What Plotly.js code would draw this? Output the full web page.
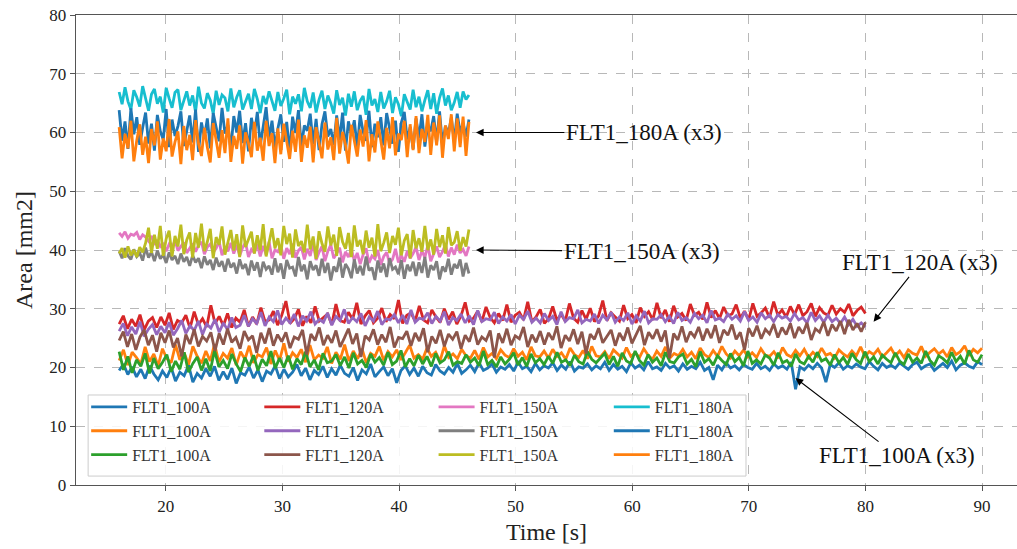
<!DOCTYPE html>
<html>
<head>
<meta charset="utf-8">
<script src="https://cdn.plot.ly/plotly-3.0.1.min.js"></script>
<style>html,body{margin:0;padding:0;background:#fff;}#chart{width:1017px;height:549px;}</style>
</head>
<body>
<div id="chart"></div>
<script>
// Time spans of each group [start, end] in seconds
const span100 = [16, 90];
const span120 = [16, 80];
const span150 = [16, 46];
const span180 = [16, 46];

// FLT1_100A (x3)
const a100_1 = [19.5,20.6,18.8,20.1,18.4,19.7,18.1,20.3,18.9,17.9,
19.4,18.3,20.0,17.7,19.2,18.6,20.4,17.5,19.0,18.2,
19.8,18.5,20.2,17.8,19.3,18.0,19.9,17.3,19.1,18.7,
20.1,18.2,19.6,17.6,19.4,18.9,20.3,18.1,19.7,18.4,
19.2,20.5,18.6,19.9,17.9,19.5,18.8,20.2,18.3,19.8,
18.7,20.4,19.0,18.5,20.0,17.8,19.6,18.9,20.6,18.4,
19.3,20.1,18.6,19.8,17.4,19.5,20.3,18.8,19.9,18.5,
20.2,19.1,18.7,20.5,19.4,18.9,20.0,19.2,20.7,19.0,
19.6,20.4,19.3,20.8,19.5,19.9,20.6,19.2,20.1,19.7,
20.5,19.4,20.9,19.8,20.2,19.3,20.7,19.6,20.3,19.9,
20.8,19.5,20.4,19.7,21.0,19.4,20.1,19.9,20.6,19.6,
20.3,19.8,20.9,19.5,20.5,19.7,20.2,19.3,20.8,19.9,
20.4,19.6,21.0,19.8,20.1,19.5,20.7,19.9,20.3,19.4,
20.6,19.7,20.2,19.8,20.9,19.5,20.0,17.9,20.4,19.6,
20.8,19.9,20.3,19.6,20.5,20.0,19.7,20.7,19.8,20.2,
19.5,20.6,19.9,20.3,19.7,20.9,16.3,20.1,19.6,20.4,
19.8,20.7,19.9,17.5,20.5,20.0,20.8,19.7,20.3,19.9,
20.6,20.1,19.8,21.0,20.2,19.6,20.7,20.0,20.4,19.9,
20.8,20.2,19.7,20.5,20.9,19.8,20.3,20.6,19.5,20.1,
20.7,20.0,21.1,19.6,20.4,20.8,20.2,19.9,21.0,20.5];
const a100_2 = [21.2,23.0,20.4,22.6,21.7,20.6,23.5,21.0,22.3,20.3,
23.2,21.5,20.8,23.9,21.3,22.5,20.5,23.6,21.9,20.7,
22.8,21.1,24.0,20.9,22.4,21.6,23.3,20.4,22.7,21.4,
23.7,20.8,22.2,21.8,23.4,20.6,22.9,21.2,24.1,21.0,
22.5,21.7,23.1,20.9,23.8,21.3,22.1,21.6,23.5,20.7,
22.6,21.4,23.9,21.1,22.8,21.5,23.2,20.8,22.4,21.9,
23.6,21.2,22.7,21.8,23.0,21.3,22.5,23.8,21.6,22.2,
21.4,23.3,21.9,22.6,21.1,23.7,21.7,22.3,21.5,23.1,
22.0,21.6,22.9,21.4,23.4,21.8,22.4,21.5,23.0,22.1,
21.7,23.2,21.9,22.6,21.3,23.5,22.0,21.8,22.8,21.6,
23.1,21.9,22.5,21.4,23.3,22.2,21.7,22.9,21.5,23.6,
22.0,21.8,22.7,21.5,23.0,22.3,21.6,23.4,21.9,22.5,
21.7,23.2,22.1,21.4,22.8,21.9,23.5,21.6,22.4,22.0,
23.1,21.8,22.6,21.5,23.3,22.2,21.7,22.9,21.9,23.6,
22.3,21.6,22.8,22.0,23.0,21.8,22.5,21.7,23.2,22.1,
21.9,22.7,21.6,23.4,22.2,21.8,22.9,22.0,23.1,21.7,
22.6,21.9,23.3,22.1,22.4,21.6,23.0,22.3,21.8,22.8,
22.0,23.5,21.9,22.7,22.2,23.1,21.8,22.5,23.3,22.0,
22.8,21.7,23.0,22.4,22.1,23.6,21.9,22.6,23.2,22.3,
22.9,21.8,23.4,22.2,22.7,23.7,22.0,23.1,22.5,23.3];
const a100_3 = [22.7,19.6,21.9,19.1,21.3,20.2,22.4,19.0,21.6,19.8,
20.9,22.2,19.3,21.1,19.7,22.6,19.2,20.7,21.8,19.5,
21.5,19.4,22.9,20.1,21.2,19.8,22.3,20.6,19.3,21.7,
20.2,22.1,19.5,21.4,20.3,22.8,19.9,21.6,20.0,22.0,
19.7,21.5,20.5,22.7,20.1,21.3,19.6,22.4,20.8,21.1,
22.2,20.3,21.8,19.9,22.5,20.6,21.2,20.0,22.3,20.9,
21.7,20.4,22.6,20.5,21.1,22.9,20.1,21.5,20.3,22.1,
20.6,21.9,20.2,22.4,20.8,21.3,22.7,20.4,21.0,20.7,
22.2,20.9,21.6,20.3,22.8,20.5,21.2,20.1,21.8,20.6,
21.4,22.5,20.4,21.7,20.2,22.3,20.8,21.5,20.5,21.9,
20.7,22.6,20.9,21.3,20.3,22.1,21.0,20.6,22.7,21.4,
20.8,21.7,22.4,20.5,21.9,20.2,22.5,21.1,20.7,22.8,
21.2,20.4,22.2,20.9,21.6,20.3,22.6,21.0,20.8,21.8,
22.3,20.6,21.4,20.1,22.7,20.9,21.5,20.4,22.0,21.2,
20.5,22.4,21.0,21.7,20.3,22.8,20.7,21.3,20.6,22.1,
21.6,20.4,22.5,20.8,21.2,20.2,22.3,21.0,20.6,21.9,
20.9,22.6,21.1,21.5,20.4,22.2,20.8,21.7,20.5,22.4,
21.3,20.7,22.7,21.0,21.8,20.6,22.1,21.4,20.8,22.5,
21.1,20.5,22.3,20.9,21.6,20.7,22.8,21.2,20.4,22.0,
21.5,20.8,22.6,21.0,21.9,20.6,22.9,21.3,20.9,22.2];

// FLT1_120A (x3)
const a120_1 = [27.4,28.8,26.6,28.2,27.0,29.0,26.4,27.9,28.5,26.8,
28.6,27.2,29.3,26.5,28.0,27.6,28.9,26.7,29.5,27.3,
28.3,26.9,30.6,27.5,28.7,27.1,29.2,26.8,28.4,27.7,
29.8,27.0,28.6,27.4,30.2,27.8,28.1,29.6,27.2,28.9,
31.3,27.5,28.3,29.9,27.1,28.7,27.6,30.4,27.9,28.5,
29.1,27.3,30.8,28.0,27.7,29.4,28.2,31.0,27.4,28.8,
29.7,27.6,28.4,30.1,27.8,29.0,28.3,31.5,27.5,28.9,
29.3,27.9,30.5,28.1,27.6,29.8,28.6,27.7,30.0,28.2,
29.5,27.4,28.8,31.1,27.9,28.4,29.6,27.8,30.3,28.5,
27.6,29.2,28.0,30.7,27.7,28.9,29.4,28.1,31.2,27.8,
28.6,29.9,27.5,28.3,30.4,28.0,29.1,27.9,30.9,28.4,
27.7,29.7,28.2,30.1,27.8,28.8,31.4,28.0,29.3,28.6,
27.9,30.6,28.3,29.0,27.6,30.2,28.7,29.5,28.1,31.0,
28.4,29.8,27.8,30.5,28.6,29.2,28.0,30.8,28.9,29.4,
28.2,31.1,28.5,29.7,28.3,30.3,28.8,29.1,30.7,28.4,
29.6,28.1,30.9,28.7,29.3,30.1,28.5,31.2,28.9,29.8,
28.6,30.4,29.0,30.7,28.8,29.5,30.9,28.7,30.2,29.3,
28.9,30.6,29.1,30.0,29.4,30.8,28.8,29.7,30.3,29.2];
const a120_2 = [26.2,27.5,25.4,26.9,25.7,27.8,25.3,26.5,27.3,25.6,
27.0,25.9,27.7,25.5,26.6,28.0,25.8,27.1,26.3,27.9,
25.6,27.4,26.7,28.2,26.0,27.6,26.4,28.5,26.8,27.2,
28.9,27.0,28.3,27.5,29.4,27.1,28.6,27.8,29.7,27.3,
28.4,27.6,29.1,27.0,28.8,27.9,29.5,27.4,28.2,27.7,
29.3,27.2,28.7,28.0,29.9,27.5,28.5,27.8,29.2,27.1,
28.6,27.9,29.6,27.3,28.3,28.1,29.0,27.6,28.9,27.4,
29.8,27.7,28.4,28.2,29.3,27.5,28.7,27.9,29.5,27.2,
28.5,28.0,29.1,27.6,28.8,27.3,29.7,27.8,28.3,28.1,
29.4,27.5,28.6,27.9,29.0,27.4,28.9,28.2,29.6,27.7,
28.4,27.6,29.2,28.0,28.7,27.3,29.5,27.8,28.5,28.3,
29.8,27.6,28.2,27.9,29.1,27.5,28.9,28.1,29.4,27.7,
28.6,28.0,29.3,27.4,28.8,27.9,29.6,27.6,28.3,28.2,
29.0,27.8,28.7,27.5,29.4,28.0,28.5,27.7,29.2,28.3,
28.9,27.6,29.7,28.1,28.4,27.8,29.1,28.2,28.8,27.9,
29.5,28.0,28.6,27.7,29.3,28.3,28.9,27.8,29.0,28.4,
28.7,27.9,29.2,28.1,28.5,27.6,29.4,28.0,28.8,27.7,
28.9,27.8,28.4,27.5,28.6,27.3,28.2,27.0,27.6,26.9];
const a120_3 = [24.6,26.1,23.5,25.7,23.0,25.2,26.4,23.8,25.5,22.7,
25.9,24.2,26.3,23.4,25.0,21.9,25.6,24.0,26.5,23.6,
25.3,24.5,26.0,22.8,25.8,23.9,26.6,24.3,25.1,23.2,
26.2,24.7,25.4,22.5,25.9,24.1,26.7,23.7,25.6,24.4,
26.0,23.3,25.2,24.8,26.4,22.2,25.7,24.6,26.8,23.8,
25.5,24.2,26.3,23.5,25.0,26.6,24.0,25.8,21.8,25.4,
24.7,26.5,23.9,25.6,24.3,26.9,23.4,25.1,24.9,26.2,
23.7,25.9,24.5,26.7,22.6,25.3,24.1,26.4,23.6,25.7,
24.8,26.1,23.2,25.5,24.4,26.8,23.9,25.2,24.6,26.3,
21.7,25.8,24.2,26.6,23.8,25.4,24.9,26.9,23.5,25.6,
24.3,26.2,23.9,25.9,24.7,27.0,23.3,25.5,24.5,26.5,
24.0,26.1,22.4,25.7,24.8,26.7,24.2,25.3,26.4,23.7,
25.9,24.6,26.8,24.1,25.6,27.1,23.8,26.0,24.9,26.5,
24.4,26.3,21.6,25.8,24.7,27.0,24.3,26.1,25.2,26.9,
24.6,26.6,25.0,27.2,24.2,26.4,25.5,27.3,24.8,26.0,
23.0,26.7,25.3,27.1,24.9,26.5,25.7,27.4,25.1,26.8,
25.6,27.5,25.0,26.9,25.8,27.6,24.7,26.6,26.0,27.8,
25.4,27.3,26.2,27.9,25.7,28.1,26.4,27.5,26.1,27.7];

// FLT1_150A (x3)
const a150_1 = [42.9,42.3,43.1,42.0,42.7,42.5,43.0,41.8,42.6,42.2,
41.5,42.4,40.9,41.7,40.6,41.2,39.8,41.0,40.4,41.6,
39.9,40.7,41.3,39.5,40.2,41.1,39.7,40.8,41.4,39.3,
40.5,41.0,39.6,40.3,41.5,39.1,40.6,39.8,41.2,39.4,
40.9,39.0,40.4,41.3,38.8,40.1,39.5,41.0,38.9,40.7,
39.2,41.4,38.6,40.0,39.7,40.8,38.5,40.3,39.3,41.1,
38.7,39.9,40.5,38.4,40.2,39.0,41.2,38.3,39.6,40.6,
38.1,39.8,40.9,38.6,39.4,40.4,37.9,39.7,38.8,40.1,
38.2,39.5,37.6,39.2,40.3,37.8,39.0,38.5,40.0,37.5,
38.9,39.6,37.7,38.4,40.2,37.9,39.1,38.0,39.8,38.6,
39.4,40.5,38.3,39.9,38.7,40.8,38.1,39.3,40.6,38.8,
39.7,41.0,38.9,40.4,39.2,40.9,39.5,40.1,39.0,40.6];
const a150_2 = [39.8,38.6,40.3,39.0,38.4,40.1,38.9,39.5,38.2,40.4,
38.7,39.7,38.1,39.9,38.5,39.2,37.8,39.6,38.3,39.0,
37.6,39.4,38.0,38.8,37.3,39.1,37.9,38.6,36.9,38.9,
37.5,38.3,36.6,38.7,37.2,38.1,36.3,38.5,37.0,37.8,
36.0,38.4,36.8,37.6,35.7,38.2,36.5,37.9,35.4,38.0,
36.7,37.3,35.8,38.6,36.2,37.7,35.1,38.3,36.9,37.1,
35.5,38.8,36.4,37.5,35.0,38.1,36.6,37.4,35.6,38.5,
36.1,37.8,34.8,37.2,36.3,38.7,35.3,37.6,36.8,35.2,
38.4,36.0,37.3,35.7,38.9,36.5,37.0,34.9,38.2,36.2,
37.7,35.4,38.6,36.7,37.1,35.9,38.3,35.1,37.5,36.4,
38.0,35.6,37.9,36.1,38.8,35.3,37.4,36.6,38.1,35.0,
37.2,36.3,38.5,35.8,37.6,36.9,38.4,35.5,37.8,36.0];
const a150_3 = [39.4,40.3,38.7,40.6,39.1,40.0,38.8,40.5,39.6,41.2,
43.8,39.5,42.6,40.2,44.1,39.0,41.9,43.3,38.9,42.4,
40.6,44.3,39.3,41.7,43.0,38.7,42.9,40.4,44.5,39.8,
41.4,43.6,38.6,42.2,40.9,44.0,39.2,41.6,43.4,39.9,
42.7,38.8,44.2,40.5,41.8,43.1,39.4,42.5,40.0,44.4,
38.9,41.3,43.7,40.3,42.0,39.1,44.1,41.0,42.8,38.7,
43.5,40.7,41.5,39.6,44.3,40.1,42.3,38.5,43.2,41.1,
39.7,44.0,40.8,42.6,39.0,43.9,41.4,40.2,42.9,38.8,
44.2,40.6,41.7,39.3,43.3,40.4,42.1,38.9,44.4,39.8,
41.2,43.0,39.5,42.4,40.9,43.8,39.1,41.6,42.7,38.6,
43.4,40.3,42.0,39.7,44.1,40.0,41.8,39.2,43.6,40.5,
42.5,39.4,43.9,40.8,41.3,43.2,39.9,42.2,40.6,43.5];

// FLT1_180A (x3)
const a180_1 = [66.9,64.8,67.7,65.3,63.9,67.2,66.0,64.4,67.9,65.6,
63.7,66.5,67.4,64.9,66.1,63.4,67.6,65.8,64.2,66.8,
67.3,63.8,65.4,67.0,64.6,66.3,63.5,67.8,65.0,64.1,
66.7,65.5,63.2,67.1,64.7,66.4,65.9,63.6,67.5,64.3,
66.0,67.2,63.9,65.2,66.6,64.0,67.4,65.7,63.3,66.2,
64.8,67.0,65.1,63.7,66.9,64.5,65.8,67.3,63.1,66.1,
64.9,66.5,63.6,67.6,65.3,64.2,66.8,63.4,65.6,67.1,
64.0,66.3,65.0,63.2,67.2,64.7,65.9,62.9,66.6,64.4,
67.0,63.8,65.4,66.2,63.0,67.4,64.6,65.7,63.5,66.9,
64.1,65.3,67.1,63.3,66.0,64.8,62.8,66.5,65.2,63.9,
67.3,64.3,66.1,63.6,65.5,67.2,64.0,66.7,63.2,65.9,
67.5,64.6,66.3,63.8,65.1,66.9,64.2,67.0,65.6,66.4];
const a180_2 = [63.8,58.6,61.9,57.2,64.1,59.7,62.6,57.9,60.8,63.4,
58.1,61.5,56.9,63.0,60.2,58.8,64.0,57.5,62.2,59.4,
61.1,63.6,57.7,60.5,62.9,58.3,63.9,56.7,61.7,59.1,
62.4,57.3,63.3,60.9,58.5,64.2,59.8,61.3,57.1,62.8,
60.0,63.7,58.2,61.6,56.8,62.5,59.5,63.5,57.8,61.0,
64.3,58.9,62.0,57.4,60.7,63.1,58.4,61.8,56.6,62.7,
59.9,63.8,57.6,61.2,60.3,63.2,58.0,62.3,57.0,61.4,
63.6,59.3,60.6,57.9,62.9,58.7,63.4,56.9,61.9,59.6,
62.1,57.3,63.0,60.1,58.6,63.7,57.5,61.5,59.2,62.6,
57.8,63.3,60.4,58.1,62.0,56.7,61.7,63.5,58.8,60.9,
57.2,62.4,59.0,63.1,57.6,61.3,60.2,62.8,58.3,63.6,
57.9,61.1,59.8,62.5,58.5,63.2,60.0,61.6,59.3,62.2];
const a180_3 = [60.9,55.6,59.8,57.3,62.0,55.1,58.7,61.4,56.2,59.3,
54.8,60.6,57.8,61.9,55.4,59.0,56.8,62.3,55.9,58.4,
60.2,54.6,61.1,57.0,59.6,55.3,62.1,58.1,56.0,60.8,
57.5,54.9,61.6,58.9,55.7,60.4,56.5,62.4,55.0,59.4,
57.2,61.2,54.7,60.0,58.2,55.8,61.8,56.9,59.1,55.2,
62.0,57.7,59.9,54.8,60.7,56.3,61.5,58.5,55.5,60.3,
56.7,62.2,55.0,59.5,57.4,61.0,54.9,60.9,58.0,55.6,
61.7,57.1,59.2,55.3,62.5,56.4,60.1,57.9,54.7,61.3,
58.6,55.9,60.5,57.6,62.1,55.1,59.7,56.6,61.9,58.3,
55.4,60.8,57.3,62.6,56.1,59.8,58.7,62.0,55.8,61.4,
57.0,62.8,56.5,60.6,58.4,63.0,56.2,61.7,57.8,62.9,
55.7,61.2,58.9,63.1,56.8,62.4,57.5,62.7,56.0,61.8];

const names = ['FLT1_100A','FLT1_120A','FLT1_150A','FLT1_180A'];
const colors = ['#1f77b4','#ff7f0e','#2ca02c','#d62728','#9467bd','#8c564b',
                '#e377c2','#7f7f7f','#bcbd22','#17becf','#1f77b4','#ff7f0e'];
const groups = [
  {name: names[0], span: span100, series: [a100_1, a100_2, a100_3]},
  {name: names[1], span: span120, series: [a120_1, a120_2, a120_3]},
  {name: names[2], span: span150, series: [a150_1, a150_2, a150_3]},
  {name: names[3], span: span180, series: [a180_1, a180_2, a180_3]}
];

const FONT = 'Liberation Serif, Times New Roman, serif';
const legendIds = ['legend', 'legend2', 'legend3', 'legend4'];
const traces = [];
groups.forEach((g, gi) => {
  g.series.forEach((vals, si) => {
    const n = vals.length;
    const t = vals.map((_, i) => g.span[0] + i * (g.span[1] - g.span[0]) / (n - 1));
    traces.push({
      type: 'scatter', mode: 'lines', x: t, y: vals, name: g.name,
      line: {color: colors[gi * 3 + si], width: 2.8},
      legend: legendIds[gi]
    });
  });
});

const annFont = {family: FONT, size: 23, color: '#111'};
const annotations = [
  {x: 46.6, y: 60, ax: 61.0, ay: 60, text: 'FLT1_180A (x3)'},
  {x: 46.6, y: 40, ax: 60.8, ay: 39.8, text: 'FLT1_150A (x3)'},
  {x: 80.7, y: 27.8, ax: 84.7, ay: 37.8, text: 'FLT1_120A (x3)'},
  {x: 74.0, y: 18.2, ax: 82.7, ay: 5.0, text: 'FLT1_100A (x3)'}
].map(a => Object.assign({
  xref: 'x', yref: 'y', axref: 'x', ayref: 'y', showarrow: true,
  arrowhead: 2, arrowsize: 1.4, arrowwidth: 1.1, arrowcolor: '#000',
  font: annFont
}, a));

// one legend column per current level (matplotlib ncol=4 layout)
const colX = [0.0108, 0.1948, 0.3800, 0.5662];
function legendCol(i) {
  return {
    orientation: 'v', x: colX[i], y: 0.202, xanchor: 'left', yanchor: 'top',
    bgcolor: 'rgba(0,0,0,0)', borderwidth: 0, traceorder: 'normal', itemwidth: 36,
    font: {family: FONT, size: 16, color: '#333'}
  };
}

const layout = {
  width: 1017, height: 549,
  margin: {l: 76, r: 0, t: 15, b: 64},
  paper_bgcolor: '#fff', plot_bgcolor: '#fff',
  font: {family: FONT, color: '#222'},
  showlegend: true,
  legend: legendCol(0), legend2: legendCol(1), legend3: legendCol(2), legend4: legendCol(3),
  shapes: [{
    type: 'rect', xref: 'paper', yref: 'paper', layer: 'above',
    x0: 0.0129, x1: 0.712, y0: 0.019, y1: 0.1915,
    fillcolor: 'rgba(255,255,255,0.85)', line: {color: '#cccccc', width: 1}
  }],
  xaxis: {
    range: [12.3, 93.0], tickvals: [20,30,40,50,60,70,80,90],
    showgrid: true, gridcolor: '#b8b8b8', griddash: 'dash', gridwidth: 1,
    zeroline: false, showline: true, linecolor: '#555', linewidth: 1.3, mirror: true,
    ticks: 'outside', ticklen: 5, tickcolor: '#555',
    tickfont: {family: FONT, size: 17, color: '#222'},
    title: {text: 'Time [s]', font: {family: FONT, size: 24, color: '#222'}, standoff: 8}
  },
  yaxis: {
    range: [0, 80], tickvals: [0,10,20,30,40,50,60,70,80],
    showgrid: true, gridcolor: '#b8b8b8', griddash: 'dash', gridwidth: 1,
    zeroline: false, showline: true, linecolor: '#555', linewidth: 1.3,
    ticks: 'outside', ticklen: 5, tickcolor: '#555',
    tickfont: {family: FONT, size: 17, color: '#222'},
    title: {text: 'Area [mm2]', font: {family: FONT, size: 24, color: '#222'}, standoff: 10}
  },
  annotations: annotations
};

Plotly.newPlot('chart', traces, layout, {displayModeBar: false, staticPlot: true});
</script>
</body>
</html>
